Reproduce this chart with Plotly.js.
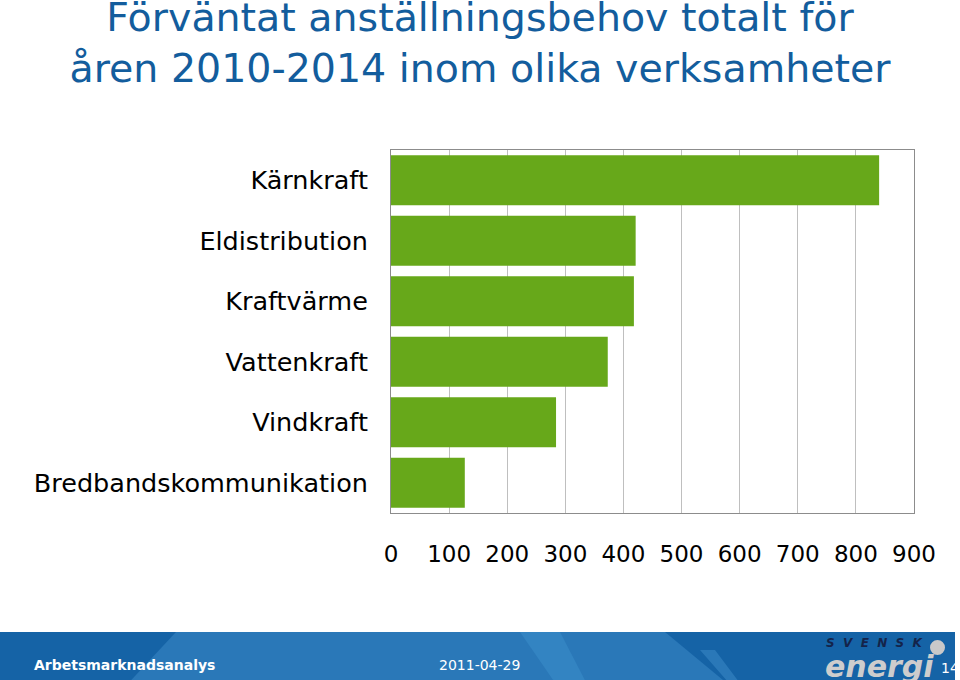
<!DOCTYPE html>
<html>
<head>
<meta charset="utf-8">
<script src="https://cdn.plot.ly/plotly-3.0.1.min.js"></script>
<style>body{margin:0;background:#fff}</style>
</head>
<body>
<div id="chart" style="width:960px;height:680px"></div>
<script>

// verksamheter, uppifrån och ned
var categories = ["Kärnkraft", "Eldistribution", "Kraftvärme", "Vattenkraft", "Vindkraft", "Bredbandskommunikation"];
var behov = [840, 421, 418, 373, 284, 127];
var xTicks = [0, 100, 200, 300, 400, 500, 600, 700, 800, 900];

// plot area in pixels, used to place the footer decoration
var L = 391, R = 914, T = 150, B = 513;
function px(x) { return (x - L) / (R - L); }
function py(y) { return (B - y) / (B - T); }

var trace = {
    type: "bar",
    orientation: "h",
    y: categories,
    x: behov,
    marker: {color: "#67a81a", line: {width: 0}},
    hoverinfo: "x+y"
};

var shapes = [
    // footer band
    {type: "rect", xref: "paper", yref: "paper", x0: px(0), x1: px(955), y0: py(632), y1: py(690),
     fillcolor: "#2a78b8", line: {width: 0}, layer: "above"},
    {type: "path", xref: "paper", yref: "paper", layer: "above", line: {width: 0}, fillcolor: "#1563a6",
     path: "M" + px(0) + "," + py(632) + " L" + px(176) + "," + py(632) + " L" + px(122) + "," + py(690) + " L" + px(0) + "," + py(690) + " Z"},
    {type: "path", xref: "paper", yref: "paper", layer: "above", line: {width: 0}, fillcolor: "#3384c2",
     path: "M" + px(520) + "," + py(632) + " L" + px(560) + "," + py(632) + " L" + px(590) + "," + py(690) + " L" + px(560) + "," + py(690) + " Z"},
    {type: "path", xref: "paper", yref: "paper", layer: "above", line: {width: 0}, fillcolor: "#1563a6",
     path: "M" + px(665) + "," + py(632) + " L" + px(955) + "," + py(632) + " L" + px(955) + "," + py(690) + " L" + px(735) + "," + py(690) + " Z"},
    {type: "path", xref: "paper", yref: "paper", layer: "above", line: {width: 0}, fillcolor: "#2a78b8",
     path: "M" + px(700) + "," + py(650) + " L" + px(715) + "," + py(650) + " L" + px(745) + "," + py(690) + " L" + px(735) + "," + py(690) + " Z"},
    // logo dot
    {type: "circle", xref: "paper", yref: "paper", layer: "above", line: {width: 0}, fillcolor: "#c9c9c9",
     x0: px(930), x1: px(945), y0: py(655), y1: py(640)}
];

var annotations = [
    {text: "Arbetsmarknadsanalys", xref: "paper", yref: "paper", x: px(32), y: py(665), xanchor: "left", yanchor: "middle",
     showarrow: false, font: {family: "DejaVu Sans", size: 14, color: "#ffffff", weight: "bold"}},
    {text: "2011-04-29", xref: "paper", yref: "paper", x: px(437), y: py(665), xanchor: "left", yanchor: "middle",
     showarrow: false, font: {family: "DejaVu Sans", size: 14, color: "#ffffff"}},
    {text: "<i><b>S  V  E  N  S  K</b></i>", xref: "paper", yref: "paper", x: px(926), y: py(643), xanchor: "right", yanchor: "middle",
     showarrow: false, font: {family: "DejaVu Sans", size: 12, color: "#14234a"}},
    {text: "<i><b>energi</b></i>", xref: "paper", yref: "paper", x: px(936), y: py(666), xanchor: "right", yanchor: "middle",
     showarrow: false, font: {family: "DejaVu Sans", size: 30, color: "#cdcdcd"}},
    {text: "14", xref: "paper", yref: "paper", x: px(939), y: py(668), xanchor: "left", yanchor: "middle",
     showarrow: false, font: {family: "DejaVu Sans", size: 14, color: "#ffffff"}}
];

var layout = {
    width: 960,
    height: 680,
    margin: {l: L, r: 960 - R, t: T, b: 680 - B, pad: 0},
    paper_bgcolor: "#ffffff",
    plot_bgcolor: "#ffffff",
    showlegend: false,
    bargap: 0.17,
    title: {
        text: "Förväntat anställningsbehov totalt för<br>åren 2010-2014 inom olika verksamheter",
        font: {family: "DejaVu Sans", size: 39.5, color: "#135d9d"},
        x: 0.5, xanchor: "center",
        y: 1 - 31 / 680, yref: "container", yanchor: "middle"
    },
    xaxis: {
        range: [0, 900],
        tickvals: xTicks,
        ticktext: xTicks.map(String),
        showgrid: true,
        gridcolor: "#bfbfbf",
        gridwidth: 1,
        zeroline: false,
        showline: true,
        linecolor: "#8c8c8c",
        linewidth: 1,
        mirror: true,
        ticks: "",
        ticklabelstandoff: 20,
        tickfont: {family: "DejaVu Sans", size: 23, color: "#000000"},
        fixedrange: true
    },
    yaxis: {
        autorange: "reversed",
        showgrid: false,
        showline: true,
        linecolor: "#8c8c8c",
        linewidth: 1,
        mirror: true,
        ticks: "",
        ticklabelstandoff: 17,
        tickfont: {family: "DejaVu Sans", size: 25.5, color: "#000000"},
        fixedrange: true
    },
    shapes: shapes,
    annotations: annotations
};

Plotly.newPlot("chart", [trace], layout, {displayModeBar: false, staticPlot: true});

</script>
</body>
</html>
